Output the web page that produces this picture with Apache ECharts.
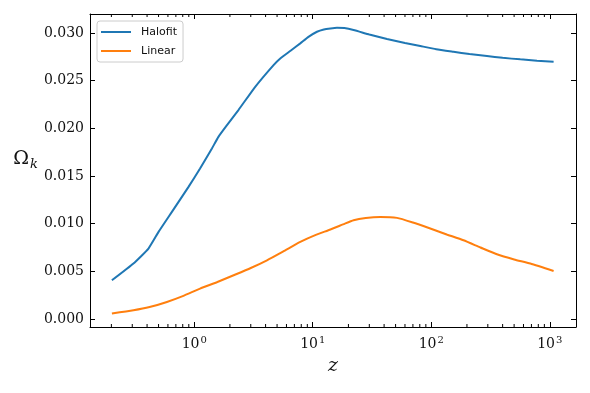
<!DOCTYPE html>
<html>
<head>
<meta charset="utf-8">
<script src="https://cdn.jsdelivr.net/npm/echarts@6/dist/echarts.min.js"></script>
<style>
  html, body { margin: 0; padding: 0; background: #fff; }
  #chart { width: 590px; height: 393px; }
</style>
</head>
<body>
<div id="chart"></div>
<script>
// values
const zHalofit = [0.202, 0.307, 0.411, 0.5, 0.648, 0.895, 1.12, 1.41, 1.6, 1.89, 2.36, 3.27, 4.67, 5.32, 6.5, 7.85, 9.2, 10.85, 12.4, 14.1, 16.0, 18.5, 22.1, 30, 42.3, 60, 80.8, 110, 154, 210, 295, 400, 564, 780, 1077]
const halofit = [0.00406, 0.00582, 0.00739, 0.00914, 0.01124, 0.01386, 0.01579, 0.01789, 0.01911, 0.02034, 0.02192, 0.02436, 0.02664, 0.02734, 0.02815, 0.02892, 0.02960, 0.03014, 0.03038, 0.03049, 0.03056, 0.03052, 0.03032, 0.02985, 0.02937, 0.02896, 0.02864, 0.02831, 0.02804, 0.02780, 0.02759, 0.02740, 0.02724, 0.02710, 0.02699]

const zLinear = [0.202, 0.307, 0.42, 0.588, 0.8, 1.12, 1.55, 2.15, 3.0, 4.11, 5.6, 7.85, 10.5, 14.1, 18, 22.1, 28, 37.1, 51.4, 70, 98.1, 135, 187, 260, 358, 500, 685, 1077]
const linear = [0.00057, 0.00091, 0.00125, 0.00179, 0.00240, 0.00319, 0.00386, 0.00459, 0.00535, 0.00616, 0.00707, 0.00809, 0.00880, 0.00939, 0.00992, 0.01036, 0.01060, 0.01071, 0.01061, 0.01012, 0.00949, 0.00887, 0.00826, 0.00750, 0.00679, 0.00625, 0.00582, 0.00504]

const seriesNames = ['Halofit', 'Linear']

// y tick labels
const yTicks = [0, 0.005, 0.01, 0.015, 0.02, 0.025, 0.03]

// minor ticks on the log axis (2..9 of each decade)
const minorTicks = [0.2, 0.3, 0.4, 0.5, 0.6, 0.7, 0.8, 0.9, 2, 3, 4, 5, 6, 7, 8, 9, 20, 30, 40, 50, 60, 70, 80, 90, 200, 300, 400, 500, 600, 700, 800, 900]

const X_MIN = 0.132
const X_MAX = 1664
const Y_MIN = -0.00084
const Y_MAX = 0.032

const zip = (xs, ys) => xs.map((x, i) => [x, ys[i]])

const serif = 'DejaVu Serif'
const ink = '#111'

const chart = echarts.init(document.getElementById('chart'))

const xBase = {
  type: 'log',
  min: X_MIN,
  max: X_MAX,
  logBase: 10,
  splitLine: { show: false },
  axisLine: { onZero: false, lineStyle: { color: '#000', width: 1 } },
  axisTick: { inside: true, length: 5, lineStyle: { color: '#000' } },
}

const yBase = {
  type: 'value',
  min: Y_MIN,
  max: Y_MAX,
  splitLine: { show: false },
  axisLine: { show: true, onZero: false, lineStyle: { color: '#000', width: 1 } },
  axisTick: { inside: true, length: 5, customValues: yTicks, lineStyle: { color: '#000' } },
}

const option = {
  animation: false,
  backgroundColor: '#fff',
  grid: { left: 90, top: 14, right: 14, bottom: 66 },
  legend: {
    data: seriesNames.map((name) => ({ name, icon: 'rect' })),
    left: 97,
    top: 21,
    orient: 'vertical',
    padding: [4, 6, 4, 4],
    itemGap: 5,
    itemWidth: 30,
    itemHeight: 2,
    borderColor: '#ccc',
    borderWidth: 1,
    borderRadius: 3,
    backgroundColor: 'rgba(255,255,255,0.8)',
    textStyle: { fontFamily: 'DejaVu Sans', fontSize: 11, lineHeight: 14, color: '#111', padding: [0, 0, 0, 5] },
  },
  xAxis: [
    {
      ...xBase,
      position: 'bottom',
      name: 'z',
      nameLocation: 'middle',
      nameGap: 30,
      nameTextStyle: { fontFamily: serif, fontStyle: 'italic', fontSize: 19, color: ink },
      axisLabel: {
        showMinLabel: false,
        showMaxLabel: false,
        margin: 8,
        formatter: (v) => '{b|10}{s|' + Math.round(Math.log10(v)) + '}',
        rich: {
          b: { fontFamily: serif, fontSize: 14, color: ink },
          s: { fontFamily: serif, fontSize: 10, color: ink, verticalAlign: 'bottom', padding: [0, 0, 8, 1] },
        },
      },
    },
    {
      ...xBase,
      position: 'top',
      axisLabel: { show: false },
    },
  ],
  yAxis: [
    {
      ...yBase,
      position: 'left',
      name: '{o|Ω}{k|k}',
      nameLocation: 'middle',
      nameRotate: 0,
      nameGap: 52,
      nameTextStyle: {
        padding: [0, 0, 22, 0],
        rich: {
          o: { fontFamily: serif, fontSize: 19, color: ink },
          k: { fontFamily: serif, fontStyle: 'italic', fontSize: 13, color: ink, verticalAlign: 'top', padding: [10, 0, 0, 1] },
        },
      },
      axisLabel: {
        customValues: yTicks,
        margin: 6,
        fontFamily: serif,
        fontSize: 14,
        color: ink,
        formatter: (v) => v.toFixed(3),
      },
    },
    {
      ...yBase,
      position: 'right',
      axisLabel: { show: false },
    },
  ],
  series: [
    {
      name: seriesNames[0],
      type: 'line',
      data: zip(zHalofit, halofit),
      symbol: 'none',
      smooth: 0.15,
      lineStyle: { color: '#1f77b4', width: 2 },
      itemStyle: { color: '#1f77b4' },
    },
    {
      name: seriesNames[1],
      type: 'line',
      data: zip(zLinear, linear),
      symbol: 'none',
      smooth: 0.2,
      lineStyle: { color: '#ff7f0e', width: 2 },
      itemStyle: { color: '#ff7f0e' },
    },
    {
      name: 'minorTicks',
      type: 'custom',
      silent: true,
      clip: false,
      data: minorTicks.map((z) => [z, Y_MIN]),
      renderItem: (params, api) => {
        const z = api.value(0)
        const pb = api.coord([z, Y_MIN])
        const pt = api.coord([z, Y_MAX])
        const style = { stroke: '#000', lineWidth: 1 }
        return {
          type: 'group',
          children: [
            { type: 'line', shape: { x1: pb[0], y1: pb[1], x2: pb[0], y2: pb[1] - 3 }, style },
            { type: 'line', shape: { x1: pt[0], y1: pt[1], x2: pt[0], y2: pt[1] + 3 }, style },
          ],
        }
      },
    },
  ],
}

chart.setOption(option)
</script>
</body>
</html>
